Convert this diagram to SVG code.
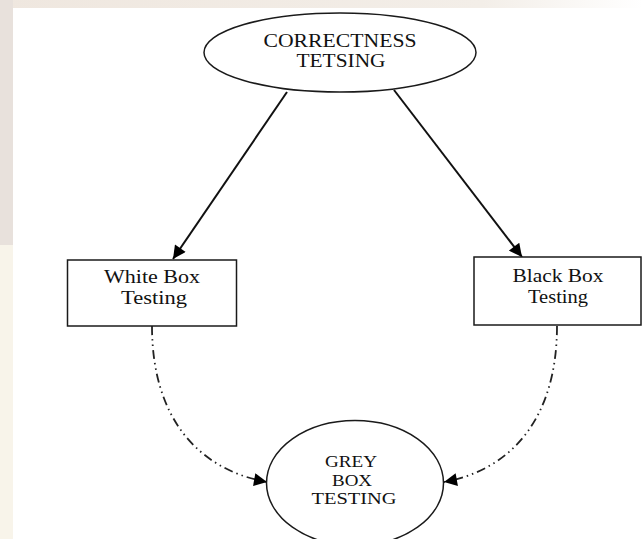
<svg xmlns="http://www.w3.org/2000/svg" width="643" height="539" viewBox="0 0 643 539">
  <defs>
    <linearGradient id="topfade" x1="0" y1="0" x2="1" y2="0">
      <stop offset="0" stop-color="#efe7df"/>
      <stop offset="0.75" stop-color="#f3eee8"/>
      <stop offset="1" stop-color="#ffffff"/>
    </linearGradient>
    <marker id="arrow" viewBox="0 0 10 10" refX="10" refY="5" markerWidth="15" markerHeight="13" markerUnits="userSpaceOnUse" orient="auto">
      <path d="M0,0 L10,5 L0,10 z" fill="#000"/>
    </marker>
    <marker id="arrowS" viewBox="0 0 10 10" refX="10" refY="5" markerWidth="15" markerHeight="13" markerUnits="userSpaceOnUse" orient="auto">
      <path d="M0,0 L10,5 L0,10 z" fill="#000"/>
    </marker>
  </defs>
  <style>
    .shape { fill: #fff; stroke: #1a1a1a; stroke-width: 1.5; }
    .label { font-family: "Liberation Serif", "Times New Roman", serif; font-size: 18px; fill: #111; text-anchor: middle; }
    .small { font-size: 16.5px; }
    .solid { fill: none; stroke: #111; stroke-width: 2; }
    .dashdot { fill: none; stroke: #222; stroke-width: 1.8; stroke-dasharray: 9 4 1.5 4 1.5 4; }
  </style>

  <!-- background -->
  <rect x="0" y="0" width="643" height="539" fill="#ffffff"/>
  <rect x="0" y="0" width="643" height="8" fill="url(#topfade)"/>
  <rect x="0" y="0" width="13" height="245" fill="#e8e1dc"/>
  <rect x="0" y="245" width="13" height="294" fill="#f8f4ea"/>

  <g id="connectors">
    <line class="solid" x1="287" y1="92" x2="173" y2="259" marker-end="url(#arrow)"/>
    <line class="solid" x1="394" y1="90" x2="522" y2="257" marker-end="url(#arrow)"/>
    <path class="dashdot" d="M152,326 C152,420 200,470 267,482" marker-end="url(#arrowS)"/>
    <path class="dashdot" d="M557,326 C557,420 510,470 444,482" marker-end="url(#arrowS)"/>
  </g>

  <g id="correctness">
    <ellipse class="shape" cx="340" cy="52.5" rx="136" ry="39.5"/>
    <text class="label" x="340" y="47" textLength="153" lengthAdjust="spacingAndGlyphs">CORRECTNESS</text>
    <text class="label" x="341" y="67" textLength="89" lengthAdjust="spacingAndGlyphs">TETSING</text>
  </g>

  <g id="whitebox">
    <rect class="shape" x="67.5" y="260" width="169" height="66"/>
    <text class="label" x="152" y="283" textLength="96" lengthAdjust="spacingAndGlyphs">White Box</text>
    <text class="label" x="154" y="304" textLength="66" lengthAdjust="spacingAndGlyphs">Testing</text>
  </g>

  <g id="blackbox">
    <rect class="shape" x="474" y="257" width="167" height="68"/>
    <text class="label" x="558" y="282" textLength="91" lengthAdjust="spacingAndGlyphs">Black Box</text>
    <text class="label" x="558" y="303" textLength="60" lengthAdjust="spacingAndGlyphs">Testing</text>
  </g>

  <g id="greybox">
    <ellipse class="shape" cx="355" cy="483" rx="88.5" ry="62.5"/>
    <text class="label small" x="351" y="467" textLength="52" lengthAdjust="spacingAndGlyphs">GREY</text>
    <text class="label small" x="352" y="485.5" textLength="40" lengthAdjust="spacingAndGlyphs">BOX</text>
    <text class="label small" x="354" y="504" textLength="85" lengthAdjust="spacingAndGlyphs">TESTING</text>
  </g>
</svg>
